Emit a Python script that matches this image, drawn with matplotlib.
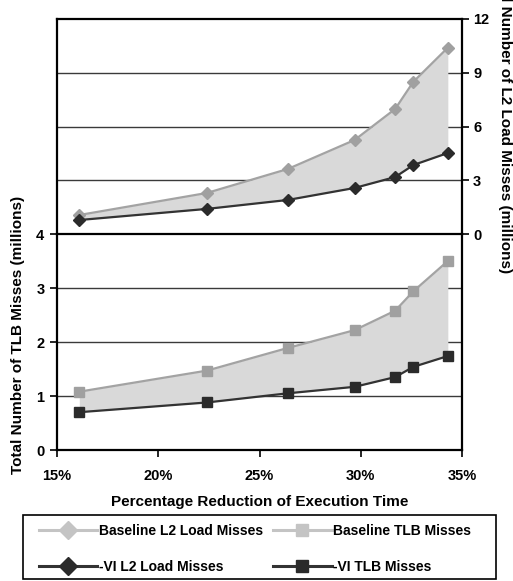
import matplotlib
matplotlib.use("Agg")
import matplotlib.pyplot as plt
from matplotlib.lines import Line2D
from matplotlib.patches import Rectangle

plt.rcParams['font.family'] = ['Liberation Sans', 'DejaVu Sans']
plt.rcParams['font.weight'] = 'bold'

# Percentage reduction of execution time (x positions)
reduction = [16.1, 22.4, 26.4, 29.7, 31.7, 32.6, 34.3]

# L2 load misses (millions)
baseline_l2 = [1.06, 2.29, 3.63, 5.25, 6.98, 8.5, 10.4]
vi_l2 = [0.78, 1.40, 1.90, 2.57, 3.18, 3.85, 4.52]

# TLB misses (millions)
baseline_tlb = [1.08, 1.47, 1.89, 2.22, 2.58, 2.94, 3.5]
vi_tlb = [0.70, 0.88, 1.05, 1.17, 1.35, 1.54, 1.74]

x_ticks = [15, 20, 25, 30, 35]
x_ticklabels = ['15%', '20%', '25%', '30%', '35%']
l2_ticks = [0, 3, 6, 9, 12]
tlb_ticks = [0, 1, 2, 3, 4]

W, H = 513, 581
fig = plt.figure(figsize=(W / 100, H / 100), dpi=100)

left = 57 / W
width = (462 - 57) / W
ax_top = fig.add_axes([left, (H - 234) / H, width, (234 - 19) / H])
ax_bot = fig.add_axes([left, (H - 450) / H, width, (450 - 234) / H])

fill_c = '#d9d9d9'
base_line_c = '#a3a3a3'
base_mark_c = '#a0a0a0'
vi_line_c = '#333333'
vi_mark_c = '#2b2b2b'
grid_c = '#3a3a3a'
tick_fs = 10.5

# Top panel: L2 load misses on the right axis
ax_top.fill_between(reduction, vi_l2, baseline_l2, color=fill_c, lw=0, zorder=1)
ax_top.plot(reduction, baseline_l2, color=base_line_c, lw=1.6, marker='D',
            ms=6.5, mfc=base_mark_c, mec=base_mark_c, zorder=3)
ax_top.plot(reduction, vi_l2, color=vi_line_c, lw=1.6, marker='D',
            ms=6.5, mfc=vi_mark_c, mec=vi_mark_c, zorder=3)
ax_top.set_ylim(0, 12)
ax_top.set_xlim(15, 35)
for v in l2_ticks[1:-1]:
    ax_top.axhline(v, color=grid_c, lw=1.0, zorder=0.5)
ax_top.yaxis.tick_right()
ax_top.set_yticks(l2_ticks)
ax_top.set_yticklabels([str(t) for t in l2_ticks], fontsize=tick_fs, fontweight='bold')
ax_top.tick_params(axis='y', direction='out', length=5, width=1.2, pad=3)
ax_top.set_xticks([])
for s in ax_top.spines.values():
    s.set_linewidth(1.6)
ax_top.spines['bottom'].set_visible(False)

# Bottom panel: TLB misses on the left axis
ax_bot.fill_between(reduction, vi_tlb, baseline_tlb, color=fill_c, lw=0, zorder=1)
ax_bot.plot(reduction, baseline_tlb, color=base_line_c, lw=1.6, marker='s',
            ms=6.5, mfc=base_mark_c, mec=base_mark_c, zorder=3)
ax_bot.plot(reduction, vi_tlb, color=vi_line_c, lw=1.6, marker='s',
            ms=6.5, mfc=vi_mark_c, mec=vi_mark_c, zorder=3)
ax_bot.set_ylim(0, 4)
ax_bot.set_xlim(15, 35)
for v in tlb_ticks[1:-1]:
    ax_bot.axhline(v, color=grid_c, lw=1.0, zorder=0.5)
ax_bot.set_yticks(tlb_ticks)
ax_bot.set_yticklabels([str(t) for t in tlb_ticks], fontsize=tick_fs, fontweight='bold')
ax_bot.set_xticks(x_ticks)
ax_bot.set_xticklabels(x_ticklabels, fontsize=tick_fs, fontweight='bold')
ax_bot.tick_params(axis='y', direction='out', length=5, width=1.2, pad=4)
ax_bot.tick_params(axis='x', direction='out', length=5, width=1.2, pad=9)
for s in ax_bot.spines.values():
    s.set_linewidth(1.6)

ax_bot.set_xlabel('Percentage Reduction of Execution Time', fontsize=11,
                  fontweight='bold', labelpad=8)

fig.text(18 / W, 1 - 335 / H, 'Total Number of TLB Misses (millions)',
         rotation=90, ha='center', va='center', fontsize=11, fontweight='bold')
fig.text(505 / W, 1 - 120 / H, 'Total Number of L2 Load Misses (millions)',
         rotation=-90, ha='center', va='center', fontsize=11, fontweight='bold')

# Legend below the chart, inside a separately drawn box
fig.patches.append(Rectangle((23 / W, 1 - 579 / H), (496 - 23) / W, 64 / H,
                             transform=fig.transFigure, fill=False,
                             edgecolor='black', lw=1.2))
handles = [
    Line2D([], [], color='#c4c4c4', lw=2.2, marker='D', ms=9,
           mfc='#c4c4c4', mec='#c4c4c4'),
    Line2D([], [], color='#333333', lw=2.2, marker='D', ms=9,
           mfc='#2b2b2b', mec='#2b2b2b'),
    Line2D([], [], color='#c4c4c4', lw=2.2, marker='s', ms=9,
           mfc='#c4c4c4', mec='#c4c4c4'),
    Line2D([], [], color='#333333', lw=2.2, marker='s', ms=9,
           mfc='#2b2b2b', mec='#2b2b2b'),
]
labels = ['Baseline L2 Load Misses', '-VI L2 Load Misses',
          'Baseline TLB Misses', '-VI TLB Misses']
fig.legend(handles, labels, loc='upper left', ncol=2,
           bbox_to_anchor=(30 / W, 1 - 515 / H),
           prop={'size': 10, 'weight': 'bold'}, frameon=False,
           handlelength=4.2, handletextpad=0.1, columnspacing=0.75,
           labelspacing=1.55, borderpad=0.65, borderaxespad=0)

fig.savefig('out.png', dpi=100)
